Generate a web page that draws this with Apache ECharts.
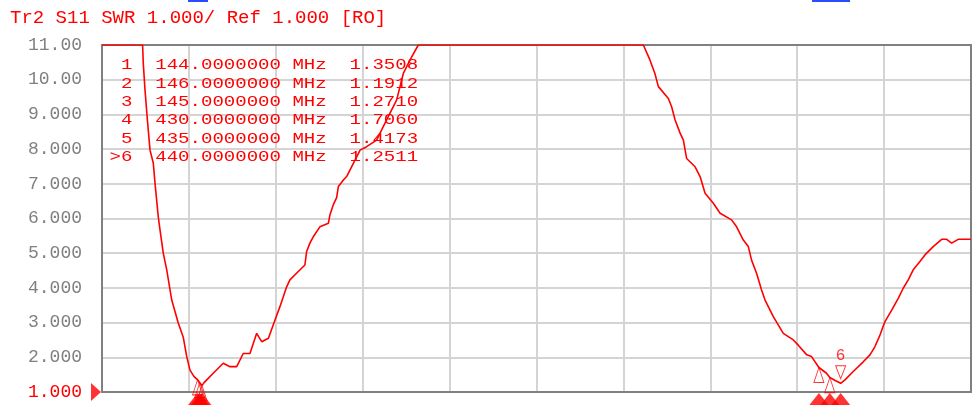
<!DOCTYPE html>
<html><head><meta charset="utf-8">
<script src="https://cdn.jsdelivr.net/npm/echarts@6/dist/echarts.min.js"></script>
<style>html,body{margin:0;padding:0;background:#fff}#c{width:974px;height:405px}</style>
</head><body><div id="c"></div>
<script>
// ---- data ----
const titleText = 'Tr2 S11 SWR 1.000/ Ref 1.000 [RO]';
const yMin = 1, yMax = 11, yStep = 1;
const xMin = 100, xMax = 500, xStep = 40;
const markerIds = ['1', '2', '3', '4', '5', '6'];
const markerFreq = [144, 146, 145, 430, 435, 440];
const markerSwr = [1.3508, 1.1912, 1.2710, 1.7060, 1.4173, 1.2511];
const activeMarker = '6';
const traceFreq = [100, 118.7, 119.0, 119.8, 120.9, 122.1, 123.6, 124.4, 125.9, 126.7, 128.2, 129.8, 132.1, 135.1, 137.4, 139.0, 140.5, 142.3, 144.0, 145.0, 146.0, 147.0, 148.2, 151.2, 155.8, 158.9, 162.0, 165.0, 168.1, 171.2, 173.5, 176.6, 179.6, 181.9, 185.0, 186.5, 190.0, 193.4, 194.2, 195.7, 197.3, 200.3, 204.2, 204.9, 206.5, 208.0, 208.8, 211.1, 212.6, 215.7, 218.8, 221.8, 226.4, 231.0, 235.6, 238.7, 241.8, 245.6, 349.2, 352.2, 354.5, 356.1, 360.7, 362.2, 363.8, 366.1, 367.6, 369.1, 373.0, 375.3, 377.6, 381.4, 384.5, 389.8, 392.1, 395.2, 397.5, 399.0, 401.3, 403.6, 405.2, 406.7, 409.0, 413.6, 418.2, 420.5, 424.4, 426.6, 430.0, 433.5, 435.0, 437.5, 440.0, 442.0, 445.8, 450.4, 453.5, 455.8, 458.1, 460.4, 463.5, 466.5, 468.8, 471.1, 473.4, 476.5, 478.8, 482.6, 486.5, 488.8, 491.1, 494.1, 500];
const traceSwr = [11, 11, 10.47, 9.70, 8.84, 7.97, 7.60, 7.02, 6.05, 5.67, 5.00, 4.52, 3.65, 2.99, 2.58, 2.02, 1.63, 1.45, 1.35, 1.27, 1.19, 1.27, 1.35, 1.54, 1.83, 1.73, 1.73, 2.11, 2.11, 2.69, 2.45, 2.55, 3.07, 3.46, 4.03, 4.23, 4.45, 4.66, 5.05, 5.29, 5.48, 5.76, 5.86, 6.10, 6.40, 6.60, 6.92, 7.11, 7.21, 7.59, 7.97, 8.07, 8.26, 8.84, 9.41, 10.18, 10.57, 11, 11, 10.57, 10.18, 9.80, 9.46, 9.22, 8.84, 8.46, 8.26, 7.73, 7.49, 7.21, 6.73, 6.44, 6.15, 5.96, 5.76, 5.38, 5.19, 4.80, 4.42, 3.94, 3.65, 3.46, 3.17, 2.69, 2.50, 2.35, 2.07, 2.02, 1.706, 1.54, 1.417, 1.33, 1.251, 1.35, 1.59, 1.87, 2.07, 2.31, 2.64, 3.03, 3.36, 3.70, 3.99, 4.23, 4.52, 4.76, 4.95, 5.19, 5.40, 5.40, 5.29, 5.40, 5.40];

// ---- build ----
const RED = '#ff0000';
const MONO = '"Liberation Mono", "DejaVu Sans Mono", monospace';
const trace = traceFreq.map((f, i) => [f, traceSwr[i]]);
const passive = [], active = [];
markerIds.forEach((id, i) => {
  const p = { value: [markerFreq[i], markerSwr[i]], name: id };
  (id === activeMarker ? active : passive).push(p);
});
const rows = markerIds.map((id, i) => {
  const idx = (id === activeMarker ? '>' : ' ') + id;
  return idx + '  ' + markerFreq[i].toFixed(7) + ' MHz  ' + markerSwr[i].toFixed(4);
});

const chart = echarts.init(document.getElementById('c'), null, { renderer: 'canvas' });
const gridLine = { show: true, lineStyle: { color: '#d4d4d4', width: 2 } };
const border = { show: true, onZero: false, lineStyle: { color: '#808080', width: 2 } };
chart.setOption({
  animation: false,
  backgroundColor: '#ffffff',
  grid: { left: 102, right: 3, top: 45, bottom: 13, containLabel: false },
  xAxis: [
    { type: 'value', min: xMin, max: xMax, interval: xStep, position: 'bottom',
      axisLabel: { show: false }, axisTick: { show: false }, axisLine: border, splitLine: gridLine },
    { type: 'value', min: xMin, max: xMax, interval: xStep, position: 'top',
      axisLabel: { show: false }, axisTick: { show: false }, axisLine: border, splitLine: { show: false } }
  ],
  yAxis: [
    { type: 'value', min: yMin, max: yMax, interval: yStep, position: 'left',
      axisTick: { show: false }, axisLine: border, splitLine: gridLine,
      axisLabel: {
        margin: 20, fontFamily: MONO, fontSize: 18, color: '#808080',
        formatter: v => v === yMin ? '{r|' + v.toFixed(3) + '}' : (v >= 10 ? v.toFixed(2) : v.toFixed(3)),
        rich: { r: { color: RED, fontFamily: MONO, fontSize: 18 } }
      } },
    { type: 'value', min: yMin, max: yMax, interval: yStep, position: 'right',
      axisLabel: { show: false }, axisTick: { show: false }, axisLine: border, splitLine: { show: false } }
  ],
  series: [
    { type: 'line', data: trace, showSymbol: false, symbol: 'none', lineStyle: { color: RED, width: 1.6 }, z: 5 },
    { type: 'scatter', data: [[xMin, yMin]], symbol: 'triangle', symbolSize: [18, 10], symbolRotate: -90,
      symbolOffset: [-6, 0], itemStyle: { color: RED }, clip: false, z: 6 },
    { type: 'scatter', data: markerFreq.map(f => [f, yMin]), symbol: 'triangle', symbolSize: [19, 12],
      symbolOffset: [0, 7], itemStyle: { color: RED }, clip: false, z: 6 },
    { type: 'scatter', data: passive, symbol: 'triangle', symbolSize: [10, 15], symbolOffset: [0, 7.5],
      itemStyle: { color: 'rgba(255,255,255,0)', borderColor: RED, borderWidth: 1 }, clip: false, z: 7 },
    { type: 'scatter', data: active, symbol: 'triangle', symbolSize: [10, 13], symbolRotate: 180, symbolOffset: [0, -11],
      itemStyle: { color: 'rgba(255,255,255,0)', borderColor: RED, borderWidth: 1 }, clip: false, z: 7,
      label: { show: true, position: 'top', distance: 1, formatter: p => p.name, color: RED, fontFamily: MONO, fontSize: 16 } }
  ],
  graphic: [
    { type: 'rect', shape: { x: 188, y: 0, width: 20, height: 2 }, style: { fill: '#2a4cff' } },
    { type: 'rect', shape: { x: 812, y: 0, width: 38, height: 2 }, style: { fill: '#2a4cff' } },
    { type: 'text', x: 10, y: 18, style: { text: titleText, font: '19px ' + MONO, fill: RED, verticalAlign: 'middle' }, z: 100 },
    ...rows.map((r, i) => ({
      type: 'text', x: 109.5, y: 65.5 + 18.3 * i, scaleX: 1.27, originX: 0, originY: 0,
      style: { text: r, font: '15px ' + MONO, fill: RED, verticalAlign: 'middle' }, z: 100
    }))
  ]
});
</script>
</body></html>
